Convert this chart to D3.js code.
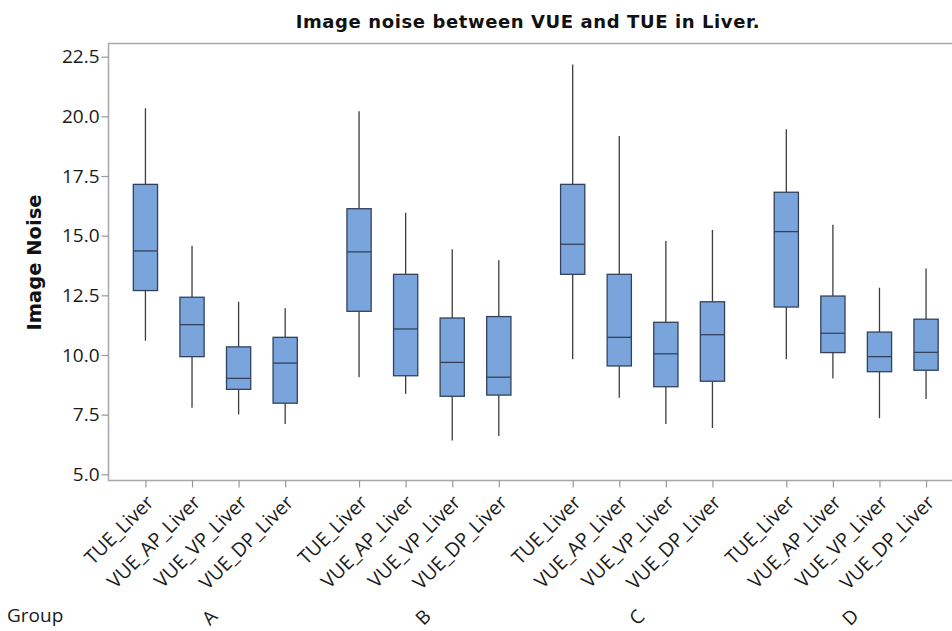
<!DOCTYPE html>
<html>
<head>
<meta charset="utf-8">
<script src="https://cdn.jsdelivr.net/npm/d3@7"></script>
<style>
  html, body { margin: 0; padding: 0; background: #fff; }
  svg { display: block; }
</style>
</head>
<body>
<svg id="chart" width="952" height="631"></svg>
<script>
// ---- data ----
const groups = ["A", "B", "C", "D"];
const series = ["TUE_Liver", "VUE_AP_Liver", "VUE_VP_Liver", "VUE_DP_Liver"];
const yTicks = [5.0, 7.5, 10.0, 12.5, 15.0, 17.5, 20.0, 22.5];
// per group, per series: [whiskerLow, Q1, median, Q3, whiskerHigh]
const boxA = [[10.60, 12.70, 14.36, 17.15, 20.34], [7.79, 9.93, 11.27, 12.42, 14.58], [7.51, 8.56, 9.02, 10.34, 12.23], [7.11, 7.98, 9.66, 10.74, 11.96]];
const boxB = [[9.07, 11.83, 14.32, 16.13, 20.21], [8.37, 9.13, 11.09, 13.38, 15.96], [6.42, 8.27, 9.69, 11.55, 14.43], [6.61, 8.32, 9.07, 11.61, 13.97]];
const boxC = [[9.82, 13.38, 14.64, 17.15, 22.17], [8.21, 9.54, 10.74, 13.38, 19.18], [7.11, 8.67, 10.05, 11.37, 14.78], [6.94, 8.90, 10.85, 12.23, 15.24]];
const boxD = [[9.82, 12.01, 15.17, 16.82, 19.46], [9.01, 10.10, 10.91, 12.47, 15.46], [7.35, 9.30, 9.93, 10.96, 12.82], [8.16, 9.36, 10.11, 11.50, 13.62]];
const boxStats = [boxA, boxB, boxC, boxD];

// ---- layout ----
const svg = d3.select("#chart");
const frame = { left: 108.5, top: 43.5, bottom: 480.5, right: 963 };

const y = d3.scaleLinear().domain([5, 22.5]).range([474.3, 56.7]);
const xGroup = d3.scaleBand().domain(groups).range([frame.left, frame.right]).padding(0);
const xInner = d3.scaleBand().domain(series).range([0, xGroup.bandwidth()])
  .paddingInner(0.48).paddingOuter(0.533);

const keys = [], keyX = [], keyLabel = [];
groups.forEach(g => series.forEach(s => {
  keys.push(g + "|" + s);
  keyX.push(xGroup(g) + xInner(s) + xInner.bandwidth() / 2);
  keyLabel.push(s);
}));
const xAll = d3.scaleOrdinal().domain(keys).range(keyX);

const rows = [];
groups.forEach((g, gi) => series.forEach((s, si) => {
  const st = boxStats[gi][si];
  rows.push({ g, s, lo: st[0], q1: st[1], med: st[2], q3: st[3], hi: st[4] });
}));

// frame
svg.append("rect")
  .attr("x", frame.left).attr("y", frame.top)
  .attr("width", frame.right - frame.left).attr("height", frame.bottom - frame.top)
  .attr("fill", "none").attr("stroke", "#a8a8a8").attr("stroke-width", 1.5);

// y axis
const yAxis = svg.append("g")
  .attr("transform", `translate(${frame.left},0)`)
  .call(d3.axisLeft(y).tickValues(yTicks).tickFormat(d3.format(".1f")).tickSize(7).tickPadding(2));
yAxis.select(".domain").remove();
yAxis.selectAll(".tick line").attr("stroke", "#999").attr("stroke-width", 1.2);
yAxis.selectAll(".tick text")
  .attr("font-family", "'Open Sans', sans-serif").attr("font-size", 19).attr("fill", "#1a1a1a");

// x axis
const xAxis = svg.append("g")
  .attr("transform", `translate(0,${frame.bottom})`)
  .call(d3.axisBottom(xAll).tickSize(7).tickFormat((d, i) => keyLabel[i]));
xAxis.select(".domain").remove();
xAxis.selectAll(".tick line").attr("stroke", "#999").attr("stroke-width", 1.2);
xAxis.selectAll(".tick text")
  .attr("font-family", "'Open Sans', sans-serif").attr("font-size", 19.5).attr("fill", "#1a1a1a")
  .attr("text-anchor", "end")
  .attr("x", 0).attr("y", 0).attr("dy", 0)
  .attr("transform", "translate(9,23) rotate(-45)");

// boxes
const boxG = svg.append("g");
const bw = xInner.bandwidth();
rows.forEach(r => {
  const cx = xGroup(r.g) + xInner(r.s) + bw / 2;
  const x0 = xGroup(r.g) + xInner(r.s);
  boxG.append("line").attr("x1", cx).attr("x2", cx).attr("y1", y(r.hi)).attr("y2", y(r.q3))
    .attr("stroke", "#3d3d3d").attr("stroke-width", 1.3);
  boxG.append("line").attr("x1", cx).attr("x2", cx).attr("y1", y(r.q1)).attr("y2", y(r.lo))
    .attr("stroke", "#3d3d3d").attr("stroke-width", 1.3);
  boxG.append("rect").attr("x", x0).attr("width", bw)
    .attr("y", y(r.q3)).attr("height", y(r.q1) - y(r.q3))
    .attr("fill", "#7aa5dc").attr("stroke", "#33425a").attr("stroke-width", 1.3);
  boxG.append("line").attr("x1", x0).attr("x2", x0 + bw).attr("y1", y(r.med)).attr("y2", y(r.med))
    .attr("stroke", "#33425a").attr("stroke-width", 1.3);
});

// group labels
svg.selectAll(".glabel").data(groups).enter().append("text")
  .attr("font-family", "'Open Sans', sans-serif").attr("font-size", 19).attr("fill", "#1a1a1a")
  .attr("text-anchor", "middle").attr("dominant-baseline", "central")
  .attr("transform", d => `translate(${xGroup(d) + xGroup.bandwidth() / 2 - 6},617) rotate(-45)`)
  .text(d => d);

svg.append("text").attr("x", 7).attr("y", 622)
  .attr("font-family", "'Open Sans', sans-serif").attr("font-size", 19).attr("fill", "#1a1a1a")
  .text("Group");

// title
svg.append("text").attr("x", 528).attr("y", 28).attr("text-anchor", "middle")
  .attr("font-family", "'DejaVu Sans', sans-serif").attr("font-weight", "bold")
  .attr("font-size", 18).attr("letter-spacing", 0.6).attr("fill", "#111")
  .text("Image noise between VUE and TUE in Liver.");

// y label
svg.append("text")
  .attr("transform", `translate(41,262.5) rotate(-90)`)
  .attr("text-anchor", "middle")
  .attr("font-family", "'DejaVu Sans', sans-serif").attr("font-weight", "bold")
  .attr("font-size", 19.5).attr("fill", "#111")
  .text("Image Noise");
</script>
</body>
</html>
